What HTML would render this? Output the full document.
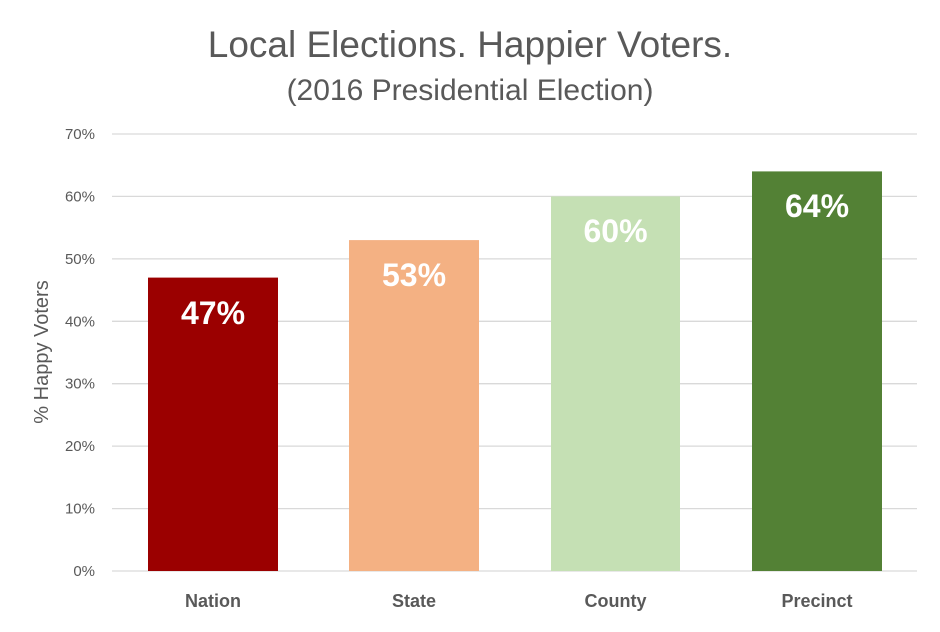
<!DOCTYPE html>
<html><head><meta charset="utf-8"><style>
html,body{margin:0;padding:0;background:#fff;}
</style></head><body>
<svg width="940" height="627" viewBox="0 0 940 627" xmlns="http://www.w3.org/2000/svg" font-family="Liberation Sans, sans-serif">
<rect width="940" height="627" fill="#fff"/>
<text x="470" y="57" text-anchor="middle" font-size="37" fill="#595959">Local Elections. Happier Voters.</text>
<text x="470" y="100" text-anchor="middle" font-size="30" fill="#595959">(2016 Presidential Election)</text>
<g stroke="#d9d9d9" stroke-width="1.3">
<line x1="112" x2="917" y1="134" y2="134"/>
<line x1="112" x2="917" y1="196.4" y2="196.4"/>
<line x1="112" x2="917" y1="258.9" y2="258.9"/>
<line x1="112" x2="917" y1="321.3" y2="321.3"/>
<line x1="112" x2="917" y1="383.7" y2="383.7"/>
<line x1="112" x2="917" y1="446.1" y2="446.1"/>
<line x1="112" x2="917" y1="508.6" y2="508.6"/>
<line x1="112" x2="917" y1="571" y2="571"/>
</g>
<g font-size="15" fill="#595959" text-anchor="end">
<text x="95" y="139">70%</text>
<text x="95" y="201.4">60%</text>
<text x="95" y="263.9">50%</text>
<text x="95" y="326.3">40%</text>
<text x="95" y="388.7">30%</text>
<text x="95" y="451.1">20%</text>
<text x="95" y="513.6">10%</text>
<text x="95" y="576">0%</text>
</g>
<text transform="translate(48,352) rotate(-90)" text-anchor="middle" font-size="20" fill="#595959">% Happy Voters</text>
<rect x="148" y="277.6" width="130" height="293.4" fill="#9b0000"/>
<rect x="349" y="240.1" width="130" height="330.9" fill="#f4b183"/>
<rect x="551" y="196.4" width="129" height="374.6" fill="#c5e0b4"/>
<rect x="752" y="171.4" width="130" height="399.6" fill="#538135"/>
<g font-size="32" font-weight="bold" fill="#fff" text-anchor="middle">
<text x="213" y="324">47%</text>
<text x="414" y="286">53%</text>
<text x="615.5" y="242">60%</text>
<text x="817" y="217">64%</text>
</g>
<g font-size="18" font-weight="bold" fill="#595959" text-anchor="middle">
<text x="213" y="607">Nation</text>
<text x="414" y="607">State</text>
<text x="615.5" y="607">County</text>
<text x="817" y="607">Precinct</text>
</g>
</svg>
</body></html>
